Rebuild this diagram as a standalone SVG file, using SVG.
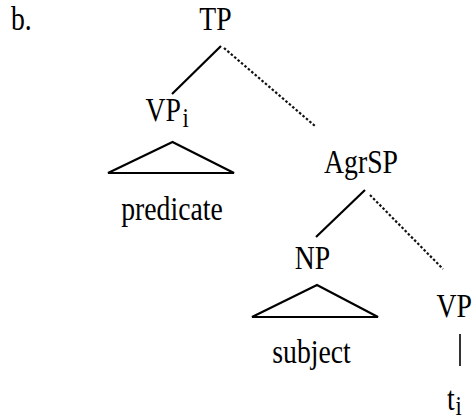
<svg xmlns="http://www.w3.org/2000/svg" width="475" height="419" viewBox="0 0 475 419">
<style>
text{font-family:'Liberation Serif','Times New Roman',Times,serif;font-size:33px;fill:#000}
.sub{font-size:27px}
.solid{stroke:#000;stroke-width:2.2;fill:none}
.dot{stroke:#111;stroke-width:2.2;stroke-dasharray:2.5 2;fill:none}
.tri{stroke:#000;stroke-width:2.2;fill:none;stroke-linejoin:miter}
</style>
<rect width="475" height="419" fill="#fff"/>
<text transform="translate(11,30) scale(0.84,1)">b.</text>
<g id="connectors">
<line class="solid" x1="221" y1="46" x2="172" y2="94"/>
<line class="dot" x1="224" y1="48" x2="315" y2="126"/>
<line class="solid" x1="365" y1="190" x2="316" y2="237"/>
<line class="dot" x1="370" y1="195" x2="443" y2="269"/>
<line class="solid" x1="460" y1="334" x2="460" y2="366" style="stroke-width:1.6"/>
</g>
<g id="TP"><text transform="translate(215.5,30) scale(0.84,1)" text-anchor="middle">TP</text></g>
<g id="VPi"><text transform="translate(145.5,121) scale(0.84,1)">VP<tspan class="sub" dx="2" dy="6">i</tspan></text></g>
<g id="predicate">
<polygon class="tri" points="172.5,142 108,173 234,173"/>
<text transform="translate(172,219.5) scale(0.84,1)" text-anchor="middle">predicate</text>
</g>
<g id="AgrSP"><text transform="translate(361,173) scale(0.84,1)" text-anchor="middle">AgrSP</text></g>
<g id="NP"><text transform="translate(312.5,269) scale(0.84,1)" text-anchor="middle">NP</text></g>
<g id="subject">
<polygon class="tri" points="317,285 252,317 378,317"/>
<text transform="translate(311.5,363) scale(0.84,1)" text-anchor="middle">subject</text>
</g>
<g id="VP"><text transform="translate(436.5,317) scale(0.84,1)">VP</text></g>
<g id="ti"><text transform="translate(447,410) scale(0.84,1)">t<tspan class="sub" dx="1" dy="5">i</tspan></text></g>
</svg>
